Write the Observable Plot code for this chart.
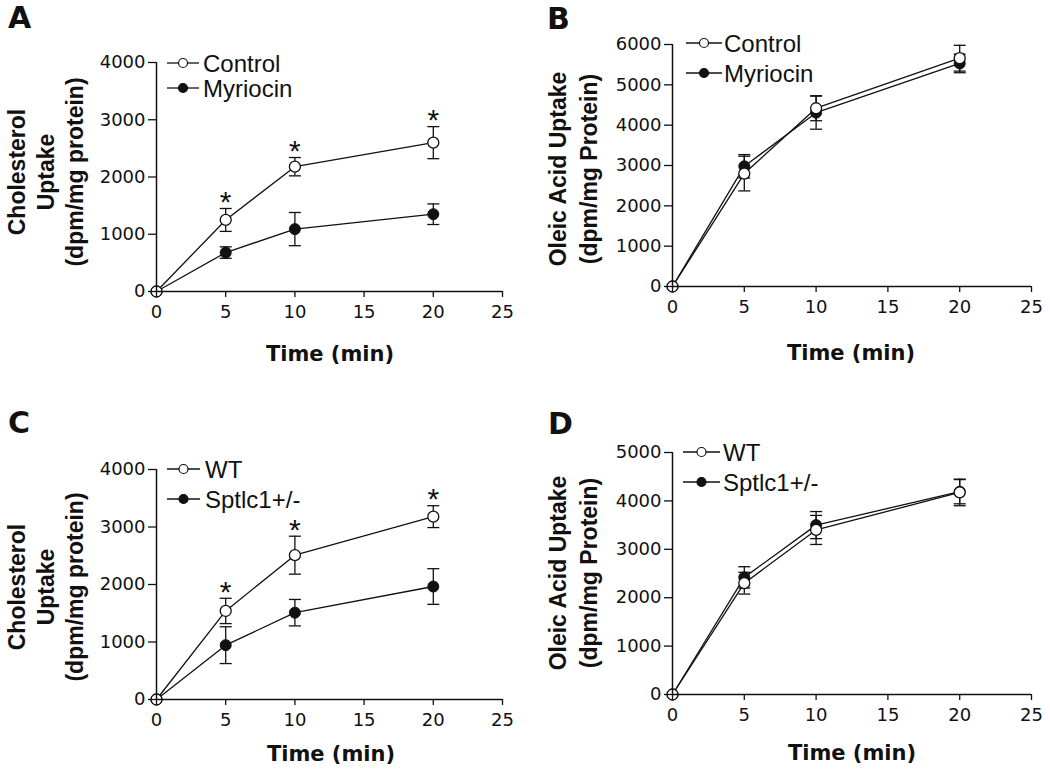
<!DOCTYPE html>
<html><head><meta charset="utf-8">
<script src="https://cdn.jsdelivr.net/npm/d3@7"></script>
<script src="https://cdn.jsdelivr.net/npm/@observablehq/plot@0.6"></script>
<style>
body{margin:0;background:#fff;}
#fig{position:relative;width:1050px;height:774px;overflow:hidden;background:#fff;}
#fig svg{position:absolute;}
</style></head><body><div id="fig"></div>
<script>
// ---------- data ----------
const times = [0, 5, 10, 20];
const xTicks = [0, 5, 10, 15, 20, 25];

// Panel A: cholesterol uptake, Control vs Myriocin
const aControl = [0, 1250, 2180, 2600];
const aControlSE = [0, 200, 160, 280];
const aMyriocin = [0, 680, 1090, 1350];
const aMyriocinSE = [0, 100, 290, 180];
const aStars = [5, 10, 20];
const aYTicks = [0, 1000, 2000, 3000, 4000];
const aLegend = ["Control", "Myriocin"];
const aYTitle = ["Cholesterol", "Uptake", "(dpm/mg protein)"];

// Panel B: oleic acid uptake, Control vs Myriocin
const bControl = [0, 2800, 4420, 5660];
const bControlSE = [0, 430, 310, 320];
const bMyriocin = [0, 2980, 4310, 5530];
const bMyriocinSE = [0, 290, 410, 230];
const bYTicks = [0, 1000, 2000, 3000, 4000, 5000, 6000];
const bLegend = ["Control", "Myriocin"];
const bYTitle = ["Oleic Acid Uptake", "(dpm/mg Protein)"];

// Panel C: cholesterol uptake, WT vs Sptlc1+/-
const cWT = [0, 1540, 2510, 3180];
const cWTSE = [0, 220, 330, 190];
const cSptlc = [0, 945, 1510, 1965];
const cSptlcSE = [0, 320, 230, 310];
const cStars = [5, 10, 20];
const cYTicks = [0, 1000, 2000, 3000, 4000];
const cLegend = ["WT", "Sptlc1+/-"];
const cYTitle = ["Cholesterol", "Uptake", "(dpm/mg protein)"];

// Panel D: oleic acid uptake, WT vs Sptlc1+/-
const dWT = [0, 2300, 3400, 4175];
const dWTSE = [0, 225, 300, 275];
const dSptlc = [0, 2420, 3500, 4190];
const dSptlcSE = [0, 220, 280, 250];
const dYTicks = [0, 1000, 2000, 3000, 4000, 5000];
const dLegend = ["WT", "Sptlc1+/-"];
const dYTitle = ["Oleic Acid Uptake", "(dpm/mg Protein)"];

const xTitle = "Time (min)";
const ink = "#111";

// ---------- drawing ----------
const fig = document.getElementById("fig");
const capSymbol = {draw(ctx, size) { const r = Math.sqrt(size / Math.PI); ctx.moveTo(-r, 0); ctx.lineTo(r, 0); }};

function panel(o) {
  const rows = (vals, se) => times.map((t, i) => ({t, v: vals[i], lo: vals[i] - se[i], hi: vals[i] + se[i]}));
  const r1 = rows(o.s1, o.s1se), r2 = rows(o.s2, o.s2se);
  const errs = [...r2, ...r1].filter(d => d.hi > d.lo);
  const starRows = o.stars ? r1.filter(d => o.stars.includes(d.t)) : [];
  const svg = Plot.plot({
    width: o.width, height: o.height,
    marginLeft: o.ml, marginRight: o.mr, marginTop: o.mt, marginBottom: o.mb,
    x: {domain: [0, 25]},
    y: {domain: o.yDomain},
    style: {fontFamily: "'DejaVu Sans', sans-serif", fontSize: "18px", color: ink, background: "transparent", overflow: "visible"},
    marks: [
      Plot.ruleX(errs, {x: "t", y1: "lo", y2: "hi", stroke: ink, strokeWidth: 1.3}),
      Plot.dot(errs, {x: "t", y: "hi", symbol: capSymbol, r: 6, fill: "none", stroke: ink, strokeWidth: 1.3}),
      Plot.dot(errs, {x: "t", y: "lo", symbol: capSymbol, r: 6, fill: "none", stroke: ink, strokeWidth: 1.3}),
      Plot.line(r2, {x: "t", y: "v", stroke: ink, strokeWidth: 1.3}),
      Plot.line(r1, {x: "t", y: "v", stroke: ink, strokeWidth: 1.3}),
      Plot.dot(r2, {x: "t", y: "v", r: 5.5, fill: ink, stroke: ink, strokeWidth: 1}),
      Plot.dot(r1, {x: "t", y: "v", r: 5.5, fill: "white", stroke: ink, strokeWidth: 1.3}),
      Plot.text(starRows, {x: "t", y: "hi", text: () => "*", dy: -6, fontSize: 30, fontFamily: "'Liberation Sans', Arial, sans-serif", fill: ink}),
      Plot.ruleY([0], {stroke: ink, strokeWidth: 1.5}),
      Plot.ruleX([0], {stroke: ink, strokeWidth: 1.5}),
      Plot.axisX({ticks: xTicks, tickSize: 6, tickPadding: 8, label: null, tickFormat: d => String(d), stroke: ink, strokeWidth: 1.3}),
      Plot.axisY({ticks: o.yTicks, tickSize: 8, tickPadding: 3, label: null, tickFormat: d => String(d), stroke: ink, strokeWidth: 1.3})
    ]
  });
  svg.style.left = o.left + "px";
  svg.style.top = o.top + "px";
  fig.appendChild(svg);
}

panel({left: 0, top: 0, width: 525, height: 380, ml: 156, mr: 23, mt: 62, mb: 89,
  yDomain: [0, 4000], yTicks: aYTicks, s1: aControl, s1se: aControlSE, s2: aMyriocin, s2se: aMyriocinSE, stars: aStars});
panel({left: 525, top: 0, width: 525, height: 380, ml: 147, mr: 19, mt: 44, mb: 94,
  yDomain: [0, 6000], yTicks: bYTicks, s1: bControl, s1se: bControlSE, s2: bMyriocin, s2se: bMyriocinSE});
panel({left: 0, top: 380, width: 525, height: 394, ml: 156, mr: 23, mt: 89, mb: 75,
  yDomain: [0, 4000], yTicks: cYTicks, s1: cWT, s1se: cWTSE, s2: cSptlc, s2se: cSptlcSE, stars: cStars});
panel({left: 525, top: 380, width: 525, height: 394, ml: 147, mr: 19, mt: 72, mb: 80,
  yDomain: [0, 5000], yTicks: dYTicks, s1: dWT, s1se: dWTSE, s2: dSptlc, s2se: dSptlcSE});

// ---------- overlay text (panel letters, titles, legends) ----------
const ov = d3.select(fig).append("svg").attr("width", 1050).attr("height", 774)
  .style("left", "0px").style("top", "0px").style("overflow", "visible");
const sans = "'Liberation Sans', Arial, sans-serif";
const dv = "'DejaVu Sans', sans-serif";

// panel letters
[["A", 8, 28], ["B", 547, 29], ["C", 8, 433], ["D", 548, 434]].forEach(([t, x, y]) =>
  ov.append("text").attr("x", x).attr("y", y).attr("font-family", dv).attr("font-weight", "bold")
    .attr("font-size", 30).attr("fill", ink).text(t));

// x titles
[[330, 361], [851, 360], [331, 761], [852, 760]].forEach(([x, y]) =>
  ov.append("text").attr("x", x).attr("y", y).attr("text-anchor", "middle").attr("font-family", dv)
    .attr("font-weight", "bold").attr("font-size", 21).attr("fill", ink).text(xTitle));

// y titles
function yTitle(lines, xs, cy) {
  lines.forEach((t, i) => ov.append("text")
    .attr("transform", `translate(${xs[i]},${cy}) rotate(-90)`)
    .attr("text-anchor", "middle").attr("font-family", sans).attr("font-weight", "bold")
    .attr("font-size", 23).attr("fill", ink).text(t));
}
yTitle(aYTitle, [25, 54, 83], 172);
yTitle(bYTitle, [566, 597], 169);
yTitle(cYTitle, [25, 54, 83], 587);
yTitle(dYTitle, [566, 597], 573);

// legends
function legend(labels, x0, x1, ys, tx) {
  labels.forEach((lab, i) => {
    const y = ys[i], cx = (x0 + x1) / 2;
    ov.append("line").attr("x1", x0).attr("x2", x1).attr("y1", y).attr("y2", y).attr("stroke", ink).attr("stroke-width", 1.3);
    ov.append("circle").attr("cx", cx).attr("cy", y).attr("r", 4.5)
      .attr("fill", i === 0 ? "white" : ink).attr("stroke", ink).attr("stroke-width", 1.2);
    ov.append("text").attr("x", tx).attr("y", y + 8.6).attr("font-family", sans).attr("font-size", 24)
      .attr("fill", ink).text(lab);
  });
}
legend(aLegend, 167, 199, [63, 88], 203);
legend(bLegend, 686, 722, [43, 73], 724);
legend(cLegend, 167, 200, [469, 499], 205);
legend(dLegend, 683, 720, [452, 482], 723);
</script></body></html>
